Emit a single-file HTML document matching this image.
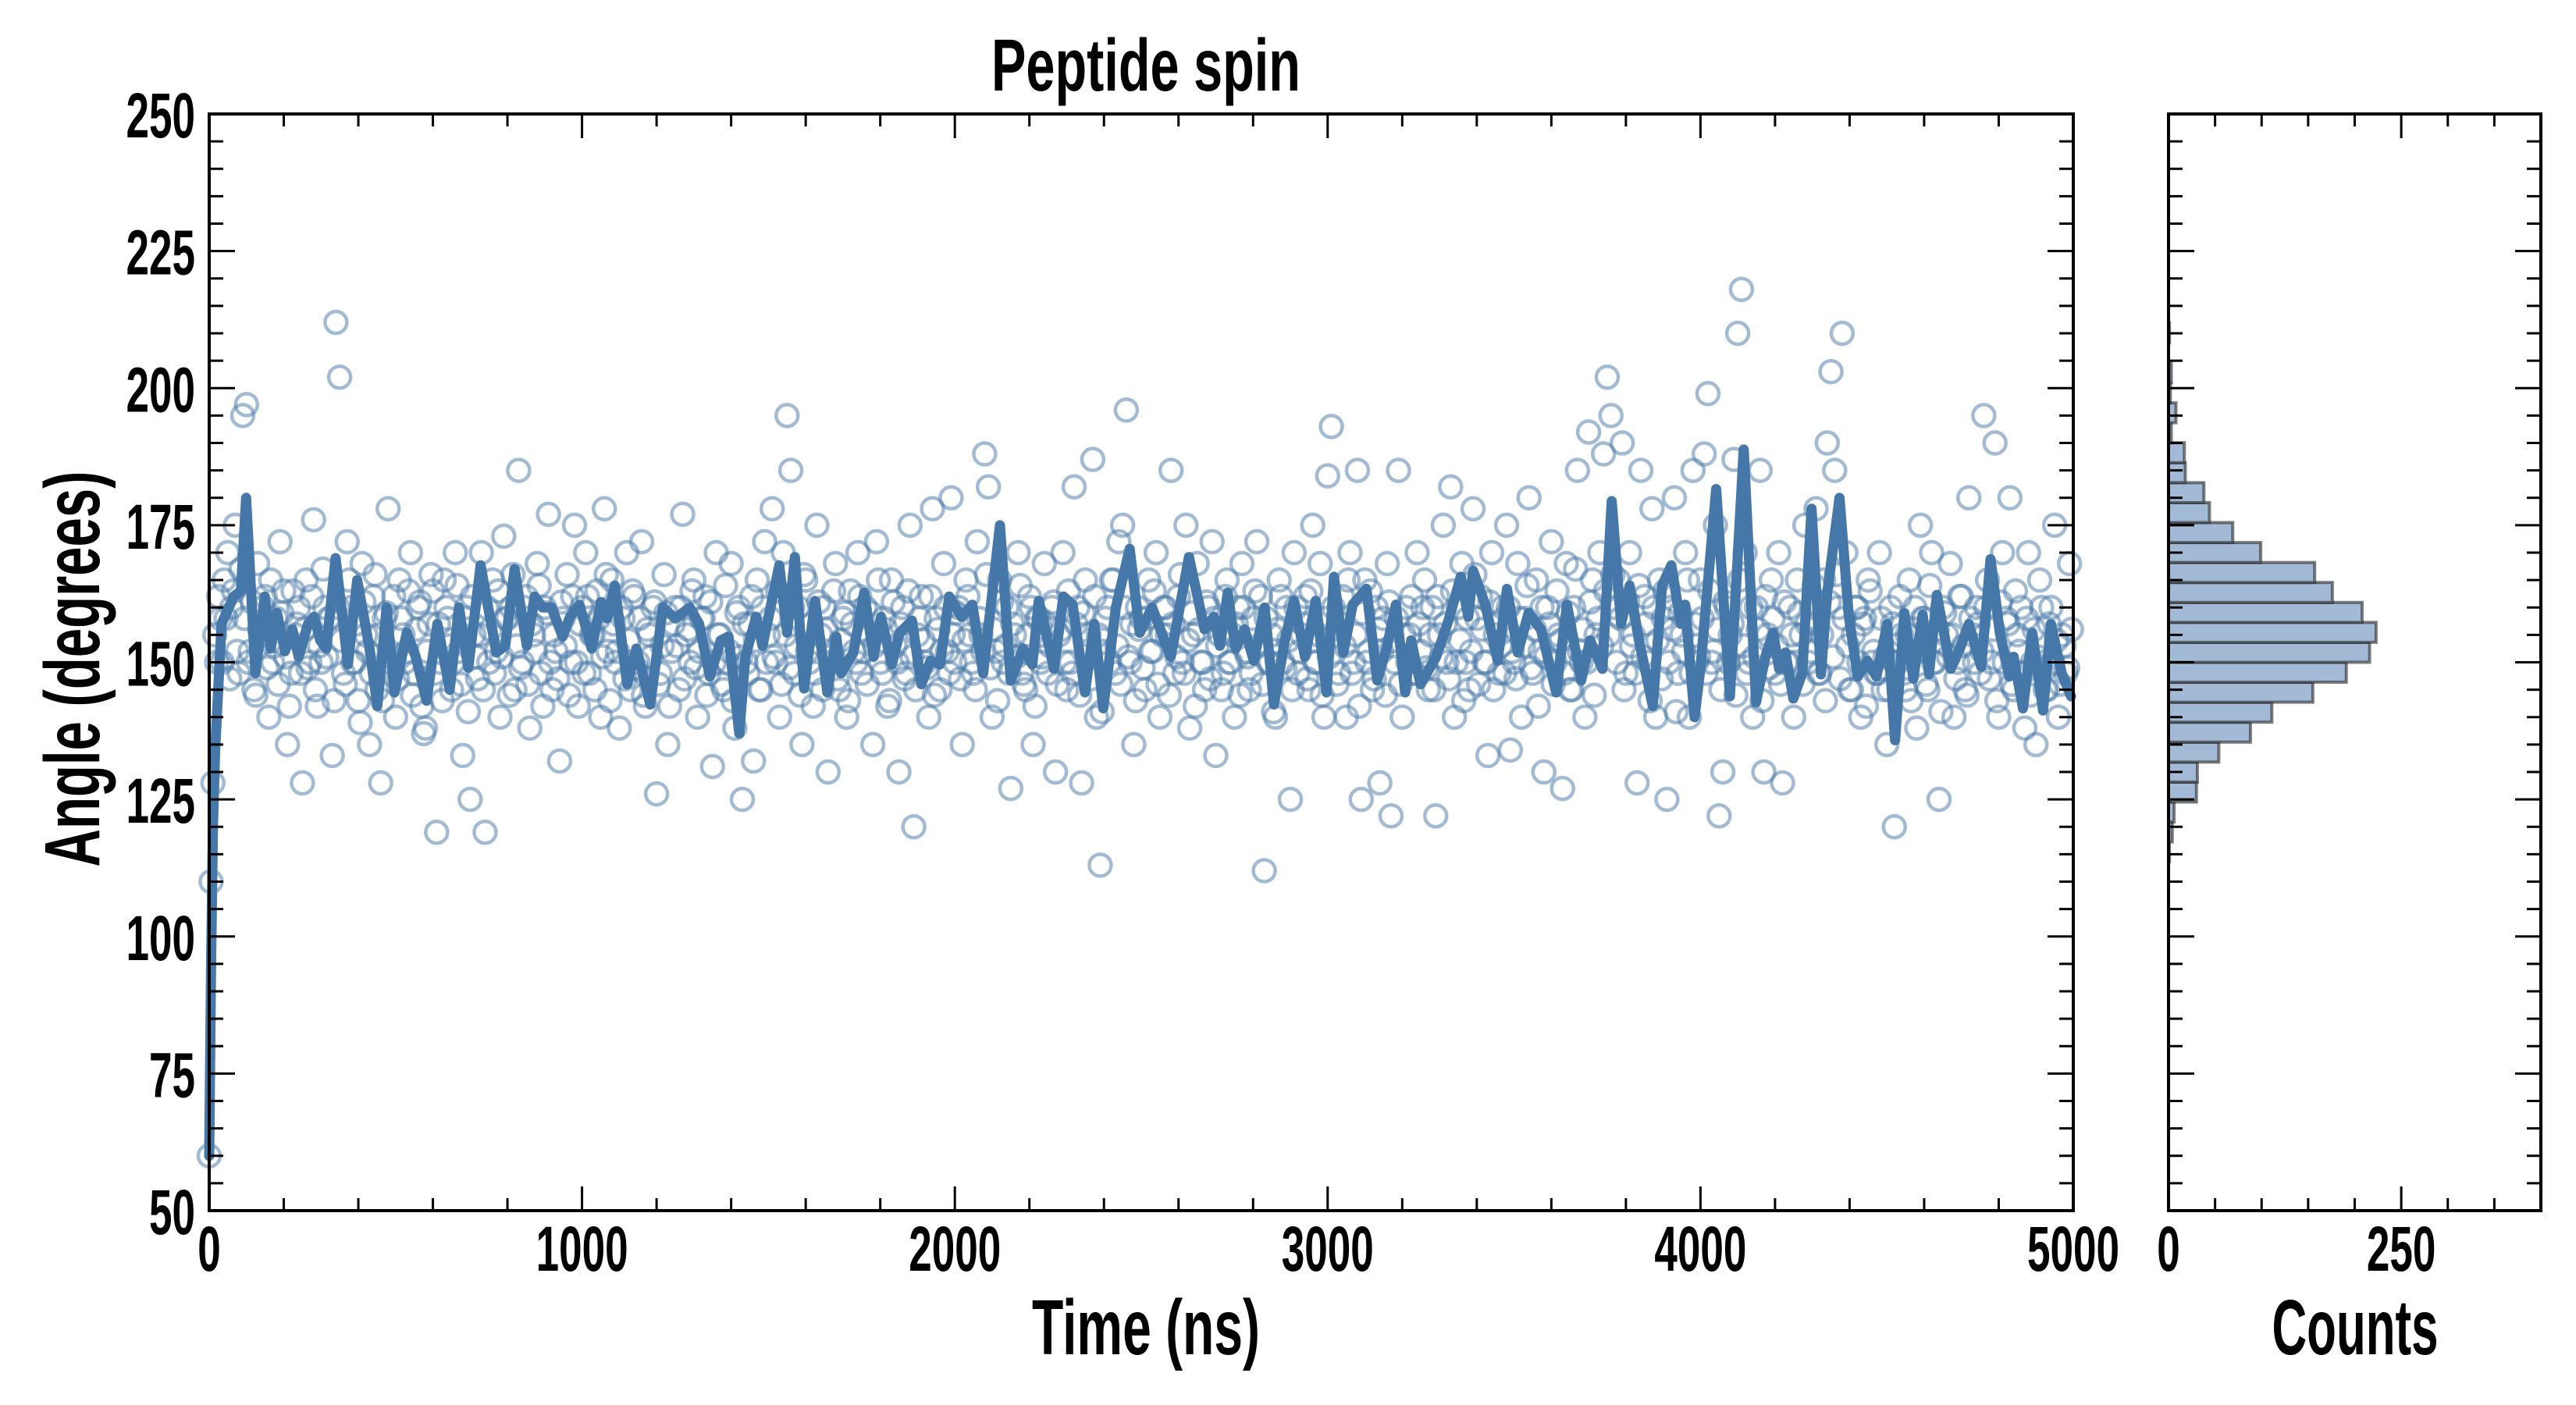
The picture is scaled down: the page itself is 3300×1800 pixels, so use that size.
<!DOCTYPE html>
<html>
<head>
<meta charset="utf-8">
<style>
html,body{margin:0;padding:0;background:#fff;}
svg{display:block;}
text{font-family:"Liberation Sans Narrow","Liberation Sans",sans-serif;font-weight:bold;fill:#000;}
</style>
</head>
<body>
<svg id="chart" width="3300" height="1800" viewBox="0 0 3300 1800" xmlns="http://www.w3.org/2000/svg">
  <rect x="0" y="0" width="3300" height="1800" fill="#fff"/>
  <g id="scatter"></g>
  <g id="smooth"></g>
  <g id="hist"></g>
  <g id="axes"></g>
  <text x="1468" y="116" font-size="95" text-anchor="middle" textLength="396" lengthAdjust="spacingAndGlyphs">Peptide spin</text>
  <text x="1468" y="1735" font-size="100" text-anchor="middle" textLength="292" lengthAdjust="spacingAndGlyphs">Time (ns)</text>
  <text x="3017" y="1735" font-size="100" text-anchor="middle" textLength="213" lengthAdjust="spacingAndGlyphs">Counts</text>
  <text x="0" y="0" font-size="100" text-anchor="middle" textLength="507" lengthAdjust="spacingAndGlyphs" transform="translate(127,857) rotate(-90)">Angle (degrees)</text>
</svg>
<script>
// ---- data ----
const scatterStepNs = 10;
const scatterValues = [
60,128,150,158,165,170,160,175,148,195,197,152,145,168,155,162,140,150,158,172,163,135,148,155,160,
128,165,150,176,142,150,160,158,133,212,202,148,172,160,150,143,168,155,135,162,145,128,158,178,150,
140,165,155,152,170,148,160,142,138,157,163,119,150,165,158,145,170,152,133,160,125,155,147,170,119,
150,165,152,140,173,158,160,145,185,150,162,138,155,168,148,160,177,145,152,132,158,166,150,175,142,
160,170,148,155,163,140,178,152,165,150,138,158,170,145,162,150,172,142,155,160,126,148,166,135,152,
160,145,177,155,150,165,140,158,162,148,131,170,155,145,150,168,138,160,125,150,157,132,165,145,172,
155,178,150,140,170,195,185,148,160,135,165,150,142,175,155,160,130,150,168,145,158,140,163,152,170,
148,160,155,135,172,150,158,142,165,153,130,160,148,175,120,155,162,150,140,178,158,145,168,152,180,
150,160,135,165,155,148,172,155,188,182,140,152,165,150,160,127,155,170,148,145,162,135,158,150,168,
148,160,130,155,170,145,150,182,160,128,165,155,187,140,113,152,160,165,148,172,175,196,150,135,160,
158,145,165,152,170,140,160,155,185,148,162,150,175,138,155,168,150,145,160,172,133,155,148,165,150,
140,160,168,152,145,158,172,162,112,150,155,140,165,150,160,125,170,148,155,162,145,175,150,168,140,
184,193,155,148,162,140,170,150,185,125,165,152,145,160,128,158,168,122,150,185,140,160,155,148,170,
152,165,145,160,122,155,175,150,182,140,160,168,150,145,178,158,162,150,133,170,155,148,160,175,134,
150,168,140,158,180,148,165,152,130,160,172,150,155,127,168,145,160,185,150,140,192,165,155,170,188,
202,195,160,165,190,148,170,155,128,185,162,150,178,140,165,158,125,160,180,148,155,170,140,185,150,
165,188,199,150,175,122,130,160,155,187,210,218,170,150,140,160,185,130,155,165,148,170,128,150,160,
140,165,155,175,150,160,178,148,165,190,203,185,160,210,170,145,155,160,140,158,165,150,148,170,145,
135,160,120,150,155,145,165,152,138,175,158,145,170,150,125,160,155,168,140,150,162,145,180,155,160,
148,195,165,150,190,140,170,158,180,145,155,160,138,170,150,135,165,150,145,160,175,140,155,148,168
];
const scatterValuesB = [
110,155,162,150,158,147,163,152,167,158,150,161,144,156,160,149,165,153,146,159,151,142,163,157,148,
156,149,162,145,153,167,151,158,143,160,154,146,165,150,157,139,161,152,148,166,155,143,159,151,162,
147,158,150,163,144,156,161,137,152,166,148,157,143,160,153,150,164,146,158,141,162,151,155,145,160,
156,148,163,151,158,144,166,153,149,160,146,157,152,164,142,159,150,155,147,161,153,144,162,150,157,
148,162,155,145,158,151,166,143,157,152,160,147,154,163,149,158,144,156,151,161,146,153,159,142,157,
153,160,147,156,163,149,152,158,144,161,150,155,146,164,152,143,159,151,157,148,162,154,145,160,150,
158,151,163,146,155,149,160,153,144,166,152,157,148,161,145,156,151,163,147,154,159,143,157,150,162,
152,146,159,153,165,148,156,143,161,150,157,147,163,151,145,158,154,149,162,144,156,152,160,148,155,
159,147,154,162,150,145,158,152,166,149,156,143,161,153,148,157,151,164,146,155,160,142,158,151,157,
153,161,146,156,150,163,148,157,144,159,152,147,162,155,141,158,150,165,153,146,160,151,157,143,156,
149,158,152,163,146,155,160,144,157,151,166,148,154,159,142,156,150,161,147,158,153,145,162,150,155,
157,144,160,151,148,163,153,146,158,150,141,156,162,149,154,145,160,152,157,147,163,150,155,144,158,
151,160,146,157,153,165,148,155,142,159,150,163,147,156,152,144,161,153,158,146,155,150,162,148,157,
160,149,155,145,162,151,157,147,163,150,154,143,158,152,166,146,156,150,161,145,157,153,148,160,152,
147,158,153,164,149,156,142,160,151,157,146,163,154,148,159,145,167,152,156,150,161,144,158,153,163,
155,166,150,158,145,161,153,148,164,151,157,143,160,154,147,163,150,156,141,159,152,165,148,157,151,
158,148,163,152,156,145,161,150,157,144,165,153,148,160,151,156,143,162,149,158,153,146,161,150,155,
150,159,146,157,152,164,148,155,143,161,151,166,147,158,153,145,160,150,157,142,163,152,148,158,151,
145,157,150,162,148,155,143,160,152,158,146,164,150,156,141,159,151,155,147,162,153,144,158,150,157,
152,160,147,156,143,161,150,157,146,163,152,148,158,144,156,151,160,145,157,150,154,146,153,149,156
];
const smoothTimes = [0,5,10,16,33,66,85,99,124,149,165,182,203,223,240,265,281,298,314,339,372,397,430,451,476,497,530,554,583,612,645,670,695,728,770,794,819,852,873,894,918,948,968,993,1026,1051,1067,1088,1121,1146,1183,1217,1250,1289,1314,1343,1372,1393,1422,1438,1467,1484,1529,1550,1571,1596,1625,1658,1682,1695,1728,1757,1782,1802,1831,1852,1885,1910,1935,1960,1985,2018,2047,2076,2121,2150,2183,2208,2225,2266,2291,2316,2349,2374,2398,2432,2469,2496,2529,2579,2628,2670,2695,2711,2732,2753,2777,2802,2831,2856,2885,2910,2939,2968,2997,3017,3042,3067,3104,3133,3158,3183,3208,3224,3249,3291,3324,3357,3377,3390,3423,3456,3481,3510,3539,3572,3613,3642,3680,3704,3737,3762,3787,3810,3835,3872,3897,3922,3947,3959,3984,4000,4042,4079,4116,4149,4174,4195,4211,4228,4249,4273,4298,4323,4340,4373,4398,4422,4447,4472,4501,4522,4547,4571,4596,4613,4634,4671,4696,4720,4753,4778,4803,4828,4840,4865,4890,4919,4940,4969,4994];
const smoothValues = [60,95,120,134,157,162,163,180,148,162,152.5,159,152,156,151,157,158.3,154,152.5,169,149.6,165,152.5,142,160,144.5,155.4,151,143,157,145,160,149,167.7,151.8,153,167,153,162,160,160,154.7,158.3,160.5,152.5,161,158,164,146,152.5,142.3,160,158,160,157,147.4,154,154.7,137,151,158.3,153,167.7,155.4,169.2,145.2,161.2,144.5,154.7,148,151.8,162.7,151,158.3,149.6,155.4,157.6,146,150.3,149.6,162,158.3,160.5,148,175,146.7,152.5,149.6,161.2,148.8,162,160.5,144.5,157,141.6,160,170.7,155.4,160,151,169.2,156,158.3,153,162.7,152.5,156,150.3,160,142.3,154,161.2,151,161.2,144.5,165.6,151.8,160.5,163.4,146.7,152.5,160.5,144.5,154,146,151,157.6,165.6,158.3,166.7,160.5,150.3,163.4,151.8,159,156,144.5,160.5,146.7,154,148.8,179.4,157,164,154,142,164,167.7,157,160.5,140,149,181.6,143.8,188.8,142.7,151,155.4,148.8,151.8,143.4,148,178,147.8,162.7,180,158.3,147.4,150.3,147.4,157,135.8,159,147,158.7,147.8,162.3,148.8,152.5,157,149.2,168.8,155.4,147.4,151,141.6,155.4,141.2,157,148,143.8];
const histBinStart = 113.6;
const histBinWidth = 3.64;
const histCounts = [1,4,6,30,31,54,88,111,155,191,216,223,208,176,157,99,69,44,38,18,17,3,8,2,3,0,1];
const mainXTicks = [0,1000,2000,3000,4000,5000];
const yTicks = [50,75,100,125,150,175,200,225,250];
const histXTicks = [0,250];

// ---- axes geometry ----
const L=268, R=2656, T=146, B=1551;
const HL=2778, HR=3255;
const X0=0, X1=5000, Y0=50, Y1=250, C1=400;
function xMain(t){return L+(t-X0)/(X1-X0)*(R-L);}
function yVal(v){return B-(v-Y0)/(Y1-Y0)*(B-T);}
function xHist(c){return HL+c/C1*(HR-HL);}

const NS="http://www.w3.org/2000/svg";
function mk(tag,attrs,parent){const e=document.createElementNS(NS,tag);for(const k in attrs)e.setAttribute(k,attrs[k]);parent.appendChild(e);return e;}

// scatter
const gS=document.getElementById('scatter');
scatterValues.forEach((v,i)=>{
  const c=mk('circle',{cx:xMain(i*scatterStepNs),cy:yVal(v),r:14,fill:'none',stroke:'rgba(69,119,168,0.5)','stroke-width':4.5},gS);
  
  
});
scatterValuesB.forEach((v,i)=>{
  const c=mk('circle',{cx:xMain(i*scatterStepNs+scatterStepNs/2),cy:yVal(v),r:14,fill:'none',stroke:'rgba(69,119,168,0.5)','stroke-width':4.5},gS);
  
  
});

// smoothed line
const gL=document.getElementById('smooth');
let d='';
smoothTimes.forEach((t,i)=>{d+=(i?'L':'M')+xMain(t).toFixed(1)+','+yVal(smoothValues[i]).toFixed(1);});
const pl=mk('path',{d:d,fill:'none',stroke:'#4577a8','stroke-width':13,'stroke-linejoin':'round','stroke-linecap':'round'},gL);



// histogram
const gH=document.getElementById('hist');
histCounts.forEach((c,i)=>{
  if(c<=0)return;
  const lo=histBinStart+i*histBinWidth, hi=lo+histBinWidth;
  const r=mk('rect',{x:xHist(0),y:yVal(hi),width:xHist(c)-xHist(0),height:yVal(lo)-yVal(hi),fill:'#a2bad5',stroke:'rgba(40,40,40,0.6)','stroke-width':4},gH);
  
  
});

// axes
const gA=document.getElementById('axes');
function line(x1,y1,x2,y2,w){mk('line',{x1:x1,y1:y1,x2:x2,y2:y2,stroke:'#000','stroke-width':w||3},gA);}
const fr1=mk('rect',{x:L,y:T,width:R-L,height:B-T,fill:'none',stroke:'#000','stroke-width':4},gA);


const fr2=mk('rect',{x:HL,y:T,width:HR-HL,height:B-T,fill:'none',stroke:'#000','stroke-width':4},gA);


for(let v=Y0;v<=Y1;v+=5){
  const y=yVal(v), maj=(v%25===0), len=maj?33:18;
  line(L,y,L+len,y); line(R,y,R-len,y);
  line(HL,y,HL+len,y); line(HR,y,HR-len,y);
}
for(let t=X0;t<=X1;t+=200){
  const x=xMain(t), maj=(t%1000===0), len=maj?31:16;
  line(x,B,x,B-len); line(x,T,x,T+len);
}
for(let c=0;c<=C1;c+=50){
  const x=xHist(c), maj=(c%250===0), len=maj?31:16;
  line(x,B,x,B-len); line(x,T,x,T+len);
}
yTicks.forEach(v=>{
  const s=String(v);
  const t=mk('text',{x:250,y:yVal(v)+30,'font-size':82,'text-anchor':'end',textLength:s.length*29.5,lengthAdjust:'spacingAndGlyphs'},gA);
  t.textContent=s;
  
  
});
mainXTicks.forEach(v=>{
  const s=String(v);
  const t=mk('text',{x:xMain(v),y:1628,'font-size':82,'text-anchor':'middle',textLength:s.length*29.5,lengthAdjust:'spacingAndGlyphs'},gA);
  t.textContent=s;
  
  
});
histXTicks.forEach(v=>{
  const s=String(v);
  const t=mk('text',{x:xHist(v),y:1628,'font-size':82,'text-anchor':'middle',textLength:s.length*29.5,lengthAdjust:'spacingAndGlyphs'},gA);
  t.textContent=s;
  
  
});
</script>
</body>
</html>
